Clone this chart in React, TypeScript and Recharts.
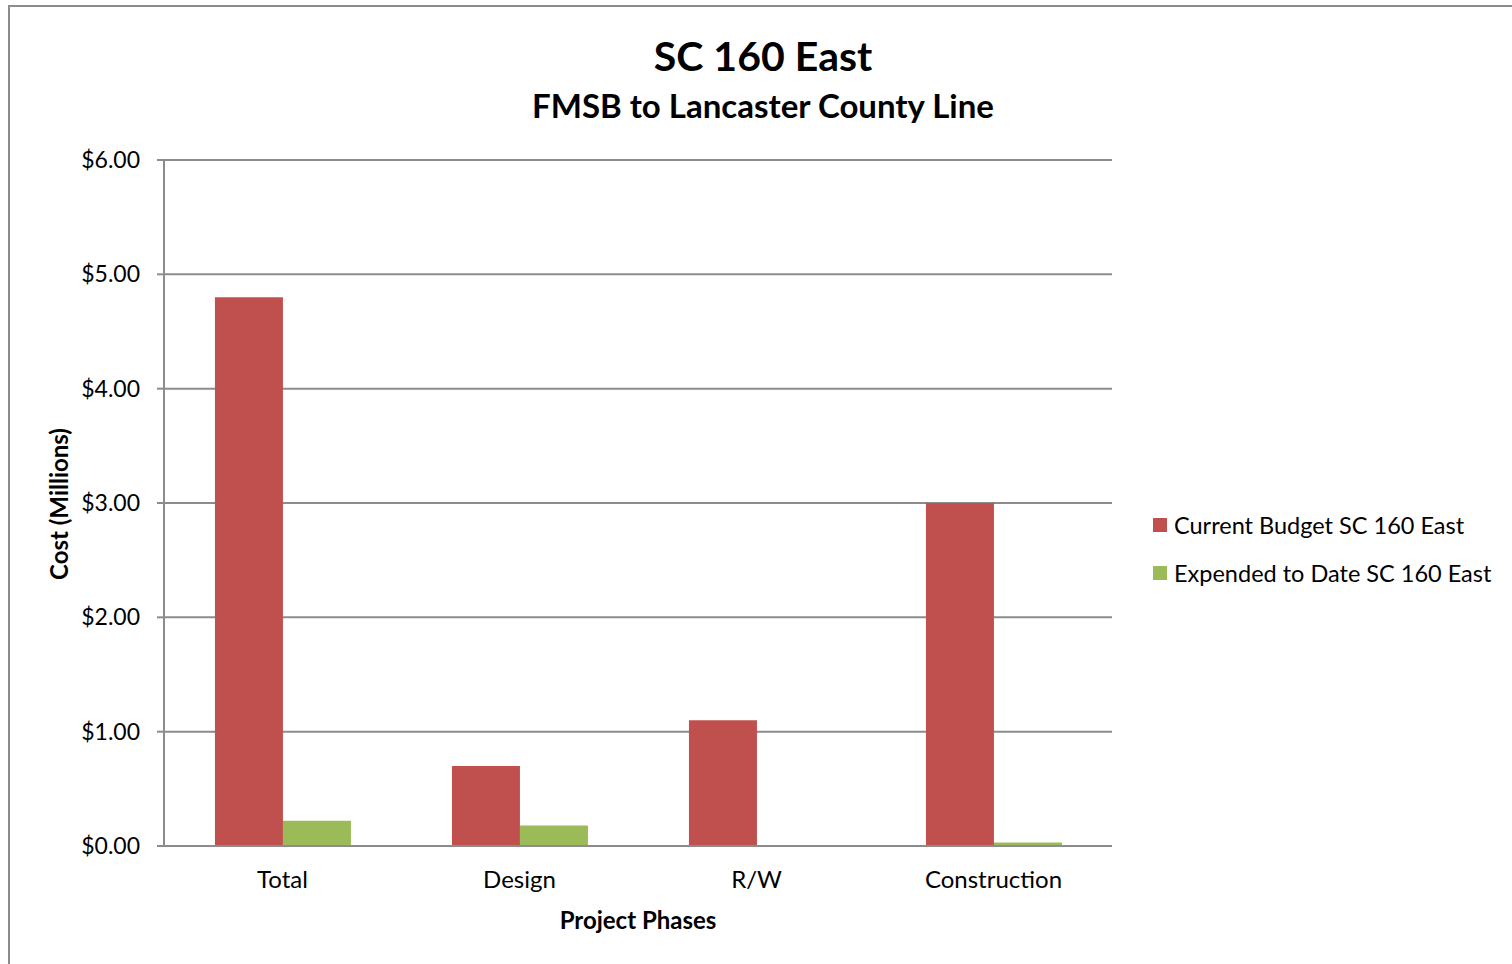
import { BarChart, Bar, XAxis, YAxis, CartesianGrid } from "recharts";

const phases = ["Total", "Design", "R/W", "Construction"];
const currentBudget = [4.8, 0.7, 1.1, 3.0];
const expendedToDate = [0.22, 0.18, 0.003, 0.03];
const yTicks = [0, 1, 2, 3, 4, 5, 6];

const seriesList = [
  { key: "budget", name: "Current Budget SC 160 East", color: "#C0504D" },
  { key: "expended", name: "Expended to Date SC 160 East", color: "#9BBB59" },
];

const data = phases.map((phase, i) => ({
  phase,
  budget: currentBudget[i],
  expended: expendedToDate[i],
}));

const FONT = "Lato, 'Open Sans', sans-serif";

const ChartLegend = () => (
  <div style={{ position: "absolute", left: 1153, top: 501, fontFamily: FONT, fontSize: 23.5, color: "#000" }}>
    {seriesList.map((s) => (
      <div key={s.key} style={{ display: "flex", alignItems: "center", height: 48, whiteSpace: "nowrap" }}>
        <span style={{ width: 14, height: 14, background: s.color, marginRight: 7, display: "inline-block" }} />
        <span>{s.name}</span>
      </div>
    ))}
  </div>
);

const App = () => {
  return (
    <div style={{ position: "fixed", left: 0, top: 0, width: 1512, height: 964, overflow: "hidden", background: "#fff" }}>
      <div
        style={{
          position: "absolute",
          left: 8,
          top: 5,
          width: 1600,
          height: 1100,
          border: "2px solid #8c8c8c",
          boxSizing: "border-box",
        }}
      />
      <div
        style={{
          position: "absolute",
          left: 0,
          width: 1526,
          top: 30,
          textAlign: "center",
          fontFamily: FONT,
          fontWeight: 700,
          color: "#000",
        }}
      >
        <div style={{ fontSize: 41, lineHeight: "52px" }}>SC 160 East</div>
        <div style={{ fontSize: 33, lineHeight: "46px" }}>FMSB to Lancaster County Line</div>
      </div>
      <div
        style={{
          position: "absolute",
          left: 58,
          top: 504,
          transform: "translate(-50%, -50%) rotate(-90deg)",
          fontFamily: FONT,
          fontWeight: 700,
          fontSize: 24,
          whiteSpace: "nowrap",
          color: "#000",
        }}
      >
        Cost (Millions)
      </div>
      <div
        style={{
          position: "absolute",
          left: 638,
          top: 919,
          transform: "translate(-50%, -50%)",
          fontFamily: FONT,
          fontWeight: 700,
          fontSize: 24,
          whiteSpace: "nowrap",
          color: "#000",
        }}
      >
        Project Phases
      </div>
      <div style={{ position: "absolute", left: 0, top: 0 }}>
        <BarChart
          width={1512}
          height={964}
          data={data}
          margin={{ top: 160, right: 400, bottom: 88, left: 34 }}
          barCategoryGap="21.5%"
          barGap={0}
        >
          <CartesianGrid vertical={false} stroke="#8c8c8c" strokeWidth={2} />
          <XAxis
            dataKey="phase"
            axisLine={{ stroke: "#8c8c8c", strokeWidth: 2 }}
            tickLine={false}
            tickMargin={19}
            height={30}
            tick={{ fill: "#000", fontSize: 24, fontFamily: FONT }}
          />
          <YAxis
            width={130}
            domain={[0, 6]}
            ticks={yTicks}
            interval={0}
            tickFormatter={(v: number) => `$${v.toFixed(2)}`}
            axisLine={{ stroke: "#8c8c8c", strokeWidth: 2 }}
            tickLine={{ stroke: "#8c8c8c", strokeWidth: 2 }}
            tickSize={7}
            tickMargin={17}
            tick={{ fill: "#000", fontSize: 23, fontFamily: FONT }}
          />
          {seriesList.map((s) => (
            <Bar key={s.key} dataKey={s.key} name={s.name} fill={s.color} isAnimationActive={false} />
          ))}
        </BarChart>
      </div>
      <ChartLegend />
    </div>
  );
};

export default App;
